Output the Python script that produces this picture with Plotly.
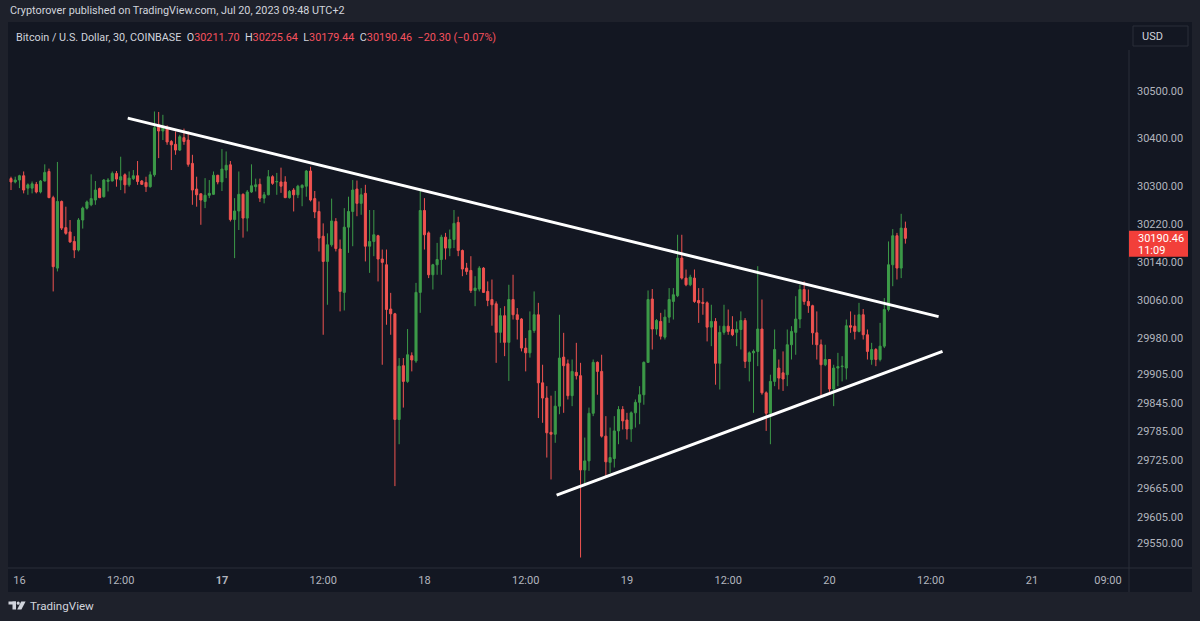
import pandas as pd
import plotly.graph_objects as go

# ---------------- data ----------------
times = pd.date_range("2023-07-15 23:00", periods=213, freq="30min")

opens = [
    30316, 30309, 30313, 30322, 30296, 30296, 30304, 30288, 30311, 30331,
    30276, 30128, 30268, 30213, 30204, 30184, 30166, 30229, 30254, 30261,
    30271, 30295, 30278, 30310, 30311, 30327, 30313, 30324, 30303, 30316,
    30322, 30311, 30308, 30299, 30324, 30429, 30416, 30423, 30394, 30388,
    30376, 30402, 30397, 30348, 30294, 30284, 30268, 30281, 30283, 30323,
    30309, 30334, 30345, 30230, 30248, 30283, 30233, 30288, 30299, 30304,
    30275, 30282, 30320, 30309, 30309, 30309, 30276, 30292, 30282, 30297,
    30300, 30332, 30274, 30247, 30195, 30142, 30177, 30226, 30168, 30077,
    30214, 30247, 30294, 30264, 30285, 30174, 30184, 30196, 30147, 30135,
    30042, 30032, 29810, 29923, 29890, 29944, 29933, 30077, 30249, 30202,
    30114, 30135, 30146, 30193, 30170, 30188, 30224, 30165, 30128, 30123,
    30081, 30084, 30128, 30079, 30062, 30053, 29993, 30028, 29972, 30062,
    30030, 30021, 29960, 29950, 29997, 30030, 29887, 29855, 29783, 29779,
    29838, 29941, 29927, 29860, 29909, 29902, 29704, 29723, 29823, 29930,
    29911, 29775, 29720, 29728, 29786, 29831, 29809, 29790, 29824, 29846,
    29862, 29930, 30063, 30000, 30016, 29983, 30025, 30058, 30070, 30149,
    30107, 30093, 30107, 30060, 30056, 30055, 30004, 30016, 29928, 29993,
    30006, 29999, 29993, 29999, 30018, 29932, 29950, 29953, 30000, 29866,
    29823, 29890, 29918, 29908, 29904, 29967, 29993, 30021, 30083, 30058,
    30049, 29992, 29967, 29925, 29936, 29874, 29918, 29921, 29918, 30007,
    30006, 29995, 30030, 29988, 29936, 29957, 29936, 29964, 30041, 30135,
    30196, 30128, 30211.70,
]
highs = [
    30320, 30320, 30324, 30331, 30306, 30310, 30309, 30313, 30346, 30337,
    30280, 30351, 30270, 30257, 30229, 30195, 30233, 30257, 30270, 30325,
    30311, 30297, 30315, 30317, 30331, 30332, 30362, 30327, 30331, 30334,
    30353, 30313, 30320, 30331, 30457, 30456, 30450, 30428, 30397, 30415,
    30408, 30421, 30415, 30366, 30320, 30285, 30317, 30313, 30331, 30324,
    30378, 30373, 30353, 30275, 30331, 30285, 30292, 30346, 30316, 30316,
    30288, 30334, 30323, 30328, 30339, 30321, 30292, 30296, 30303, 30304,
    30334, 30341, 30290, 30268, 30222, 30201, 30274, 30233, 30188, 30254,
    30278, 30313, 30312, 30296, 30303, 30250, 30250, 30198, 30167, 30167,
    30076, 30034, 29939, 29939, 30000, 29951, 30097, 30292, 30275, 30205,
    30137, 30181, 30198, 30202, 30209, 30250, 30236, 30167, 30139, 30153,
    30111, 30132, 30130, 30100, 30104, 30058, 30044, 30048, 30093, 30114,
    30044, 30023, 29981, 30037, 30079, 30055, 29925, 29880, 29860, 29870,
    30030, 29992, 29936, 29936, 29971, 29929, 29772, 29835, 29936, 29932,
    29946, 29817, 29793, 29817, 29838, 29838, 29824, 29827, 29852, 29880,
    29932, 30081, 30084, 30021, 30034, 30041, 30086, 30086, 30198, 30198,
    30125, 30114, 30125, 30086, 30086, 30058, 30051, 30023, 30007, 30051,
    30041, 30027, 30016, 30037, 30023, 29953, 29957, 30132, 30062, 29869,
    29904, 29999, 29936, 29953, 29999, 30006, 30069, 30093, 30100, 30083,
    30051, 30037, 29978, 29967, 29936, 29925, 29950, 29943, 30020, 30037,
    30030, 30055, 30042, 29999, 29971, 29960, 30013, 30065, 30184, 30210,
    30202, 30242, 30225.64,
]
lows = [
    30292, 30306, 30296, 30285, 30282, 30285, 30285, 30285, 30310, 30275,
    30079, 30121, 30208, 30198, 30181, 30149, 30163, 30211, 30251, 30258,
    30261, 30275, 30276, 30289, 30310, 30299, 30292, 30285, 30299, 30313,
    30303, 30303, 30288, 30297, 30320, 30359, 30397, 30387, 30334, 30366,
    30374, 30387, 30341, 30261, 30257, 30219, 30254, 30275, 30282, 30304,
    30290, 30317, 30226, 30149, 30208, 30192, 30205, 30286, 30289, 30267,
    30264, 30281, 30303, 30282, 30286, 30275, 30274, 30247, 30275, 30258,
    30278, 30268, 30233, 30163, 29988, 30051, 30173, 30163, 30037, 30039,
    30160, 30174, 30237, 30240, 30142, 30118, 30153, 30100, 29925, 30009,
    29988, 29670, 29758, 29835, 29887, 29911, 29929, 30034, 30167, 30107,
    30083, 30114, 30114, 30146, 30153, 30170, 30153, 30111, 30114, 30076,
    30048, 30079, 30076, 30048, 30007, 29929, 29971, 29943, 29891, 30020,
    29978, 29953, 29911, 29940, 29992, 29813, 29803, 29730, 29684, 29761,
    29821, 29824, 29852, 29838, 29894, 29520, 29670, 29702, 29817, 29862,
    29772, 29691, 29698, 29709, 29758, 29789, 29768, 29763, 29793, 29800,
    29841, 29929, 29957, 29988, 29978, 29978, 30013, 30020, 30067, 30104,
    30090, 30090, 30055, 30013, 30030, 29974, 29964, 29883, 29873, 29988,
    29988, 29985, 29964, 29957, 29918, 29890, 29824, 29922, 29862, 29786,
    29758, 29880, 29873, 29870, 29880, 29936, 29946, 30002, 30051, 30034,
    29967, 29936, 29859, 29922, 29866, 29838, 29880, 29890, 29894, 29992,
    29978, 29993, 29978, 29936, 29925, 29922, 29932, 29960, 30037, 30090,
    30104, 30107, 30179.44,
]
closes = [
    30309, 30313, 30322, 30292, 30303, 30305, 30288, 30311, 30329, 30276,
    30131, 30268, 30212, 30201, 30183, 30166, 30229, 30254, 30267, 30274,
    30292, 30276, 30313, 30313, 30327, 30315, 30320, 30303, 30317, 30322,
    30310, 30304, 30299, 30324, 30423, 30416, 30423, 30393, 30387, 30376,
    30404, 30394, 30346, 30292, 30282, 30271, 30281, 30285, 30323, 30309,
    30336, 30344, 30230, 30248, 30283, 30233, 30288, 30301, 30303, 30275,
    30282, 30320, 30306, 30310, 30300, 30276, 30289, 30282, 30300, 30302,
    30332, 30271, 30246, 30191, 30142, 30177, 30227, 30169, 30079, 30214,
    30247, 30292, 30264, 30282, 30174, 30184, 30198, 30147, 30140, 30041,
    30032, 29810, 29922, 29890, 29946, 29935, 30077, 30249, 30198, 30114,
    30135, 30146, 30193, 30170, 30188, 30222, 30165, 30126, 30121, 30081,
    30086, 30128, 30077, 30060, 30051, 29993, 30028, 29972, 30062, 30030,
    30020, 29960, 29950, 29997, 30030, 29887, 29855, 29782, 29779, 29838,
    29939, 29923, 29860, 29911, 29902, 29704, 29723, 29823, 29930, 29911,
    29775, 29721, 29730, 29786, 29831, 29807, 29790, 29824, 29846, 29862,
    29930, 30062, 30000, 30018, 29985, 30025, 30062, 30072, 30149, 30107,
    30093, 30109, 30058, 30055, 30054, 30004, 30016, 29928, 29993, 30006,
    29995, 29988, 29999, 30018, 29932, 29950, 29953, 30000, 29866, 29823,
    29890, 29957, 29897, 29895, 29967, 29995, 30021, 30083, 30058, 30049,
    29992, 29967, 29925, 29936, 29874, 29918, 29921, 29922, 30007, 30004,
    29995, 30030, 29988, 29953, 29957, 29936, 29964, 30041, 30135, 30196,
    30128, 30212, 30190.46,
]

# drawn trend lines (time, price)
upper_line_t = ["2023-07-16 12:50", "2023-07-20 12:56"]
upper_line_p = [30443, 30026]
lower_line_t = ["2023-07-18 15:40", "2023-07-20 13:24"]
lower_line_p = [29651, 29953]

price_ticks = [30500, 30400, 30300, 30220, 30140, 30060, 29980, 29905,
               29845, 29785, 29725, 29665, 29605, 29550]
time_ticks = ["2023-07-16 00:00", "2023-07-16 12:00", "2023-07-17 00:00",
              "2023-07-17 12:00", "2023-07-18 00:00", "2023-07-18 12:00",
              "2023-07-19 00:00", "2023-07-19 12:00", "2023-07-20 00:00",
              "2023-07-20 12:00", "2023-07-21 00:00", "2023-07-21 09:00"]
time_labels = ["16", "12:00", "<b>17</b>", "12:00", "18", "12:00", "19",
               "12:00", "20", "12:00", "21", "09:00"]

last_o, last_h, last_l, last_c = 30211.70, 30225.64, 30179.44, 30190.46
change, change_pct = -20.30, -0.07

# ---------------- style ----------------
W, H = 1200, 621
PL, PR, PT, PB = 8, 1129, 22, 568       # plot area in pixels
YMIN, YMAX = 29498, 30645
FRAME = "#1e212b"
PANE = "#131722"
SEP = "#2a2e39"
UP = "#3c9a48"
DOWN = "#ef5350"
TXT = "#d1d4dc"
AXT = "#b2b5be"
FONT = "Roboto"


def px(x):
    return (x - PL) / (PR - PL)


def py(y):
    return (PB - y) / (PB - PT)


def price_to_pix(p):
    return PT + (YMAX - p) / (YMAX - YMIN) * (PB - PT)


fig = go.Figure()

fig.add_trace(go.Candlestick(
    x=times, open=opens, high=highs, low=lows, close=closes,
    increasing=dict(line=dict(color=UP, width=1), fillcolor=UP),
    decreasing=dict(line=dict(color=DOWN, width=1), fillcolor=DOWN),
    whiskerwidth=0, hoverinfo="skip", showlegend=False,
))

for lt, lp in ((upper_line_t, upper_line_p), (lower_line_t, lower_line_p)):
    fig.add_trace(go.Scatter(
        x=pd.to_datetime(lt), y=lp, mode="lines",
        line=dict(color="#ffffff", width=3),
        hoverinfo="skip", showlegend=False,
    ))

shapes = []
# chart pane (including axes area)
shapes.append(dict(type="rect", xref="paper", yref="paper", layer="below",
                   x0=px(PL), x1=px(1192), y0=py(592), y1=py(PT),
                   fillcolor=PANE, line=dict(width=0)))
# separators
shapes.append(dict(type="line", xref="paper", yref="paper",
                   x0=px(PL), x1=px(1192), y0=py(PB), y1=py(PB),
                   line=dict(color=SEP, width=1)))
shapes.append(dict(type="line", xref="paper", yref="paper",
                   x0=px(PR), x1=px(PR), y0=py(50), y1=py(592),
                   line=dict(color=SEP, width=1)))
# USD box
shapes.append(dict(type="rect", xref="paper", yref="paper",
                   x0=px(1133), x1=px(1188), y0=py(46), y1=py(26),
                   fillcolor=PANE, line=dict(color=SEP, width=1)))
# last price label
yc = price_to_pix(last_c)
shapes.append(dict(type="rect", xref="paper", yref="paper",
                   x0=px(PR), x1=px(1188), y0=py(yc + 18.5), y1=py(yc - 7.5),
                   fillcolor="#f23f3a", line=dict(width=0)))
# TradingView logo
shapes.append(dict(type="rect", xref="paper", yref="paper",
                   x0=px(8.5), x1=px(16), y0=py(604.5), y1=py(601.5),
                   fillcolor=TXT, line=dict(width=0)))
shapes.append(dict(type="rect", xref="paper", yref="paper",
                   x0=px(12.5), x1=px(16), y0=py(609.5), y1=py(601.5),
                   fillcolor=TXT, line=dict(width=0)))
shapes.append(dict(type="circle", xref="paper", yref="paper",
                   x0=px(16.6), x1=px(19.8), y0=py(604.8), y1=py(601.5),
                   fillcolor=TXT, line=dict(width=0)))
lx = [21.2, 25.6, 21.4, 17.2]
ly = [601.5, 601.5, 609.5, 609.5]
path = "M " + " L ".join(f"{px(a)},{py(b)}" for a, b in zip(lx, ly)) + " Z"
shapes.append(dict(type="path", xref="paper", yref="paper", path=path,
                   fillcolor=TXT, line=dict(width=0)))

red_txt = "#f7525f"
nb = "\u00a0"
legend_txt = (
    f"Bitcoin / U.S. Dollar, 30, COINBASE{nb}{nb}"
    f"O<span style='color:{red_txt}'>{last_o:.2f}</span>{nb}{nb}"
    f"H<span style='color:{red_txt}'>{last_h:.2f}</span>{nb}{nb}"
    f"L<span style='color:{red_txt}'>{last_l:.2f}</span>{nb}{nb}"
    f"C<span style='color:{red_txt}'>{last_c:.2f}</span>{nb}{nb}"
    f"<span style='color:{red_txt}'>\u2212{abs(change):.2f} (\u2212{abs(change_pct):.2f}%)</span>"
)

annotations = [
    dict(text="Cryptorover published on TradingView.com, Jul 20, 2023 09:48 UTC+2",
         x=px(8), y=py(10), xanchor="left", yanchor="middle",
         font=dict(size=10.85, color=TXT, family=FONT)),
    dict(text=legend_txt, x=px(14), y=py(37), xanchor="left", yanchor="middle",
         font=dict(size=10.8, color=TXT, family=FONT)),
    dict(text="USD", x=px(1140), y=py(36.5), xanchor="left", yanchor="middle",
         font=dict(size=11, color=TXT, family=FONT)),
    dict(text=f"{last_c:.2f}", x=px(1136), y=py(yc), xanchor="left",
         yanchor="middle", font=dict(size=11, color="#ffffff", family=FONT)),
    dict(text="11:09", x=px(1136), y=py(yc + 12), xanchor="left",
         yanchor="middle", font=dict(size=11, color="#ffffff", family=FONT)),
    dict(text="TradingView", x=px(27.5), y=py(605.5), xanchor="left",
         yanchor="middle", font=dict(size=11.6, color=TXT, family=FONT)),
]
for a in annotations:
    a.update(xref="paper", yref="paper", showarrow=False)

fig.update_layout(
    width=W, height=H,
    margin=dict(l=PL, r=W - PR, t=PT, b=H - PB, pad=0),
    paper_bgcolor=FRAME, plot_bgcolor=PANE,
    showlegend=False, hovermode=False,
    font=dict(family=FONT, color=AXT),
    shapes=shapes, annotations=annotations,
    xaxis=dict(
        type="date", range=["2023-07-15 22:38:40", "2023-07-21 11:30"],
        tickvals=pd.to_datetime(time_ticks), ticktext=time_labels,
        tickfont=dict(size=11, color=AXT, family=FONT),
        showgrid=False, zeroline=False, showline=False, ticks="",
        rangeslider=dict(visible=False), fixedrange=True,
        ticklabelstandoff=4,
    ),
    yaxis=dict(
        side="right", range=[YMIN, YMAX],
        tickvals=price_ticks, ticktext=[f"{v:.2f}" for v in price_ticks],
        tickfont=dict(size=11, color=AXT, family=FONT),
        showgrid=False, zeroline=False, showline=False, ticks="",
        fixedrange=True, ticklabelstandoff=7,
    ),
)

fig.write_html("out.html", config={"displayModeBar": False, "staticPlot": True},
               post_script="document.body.style.margin='0';document.body.style.overflow='hidden';")
